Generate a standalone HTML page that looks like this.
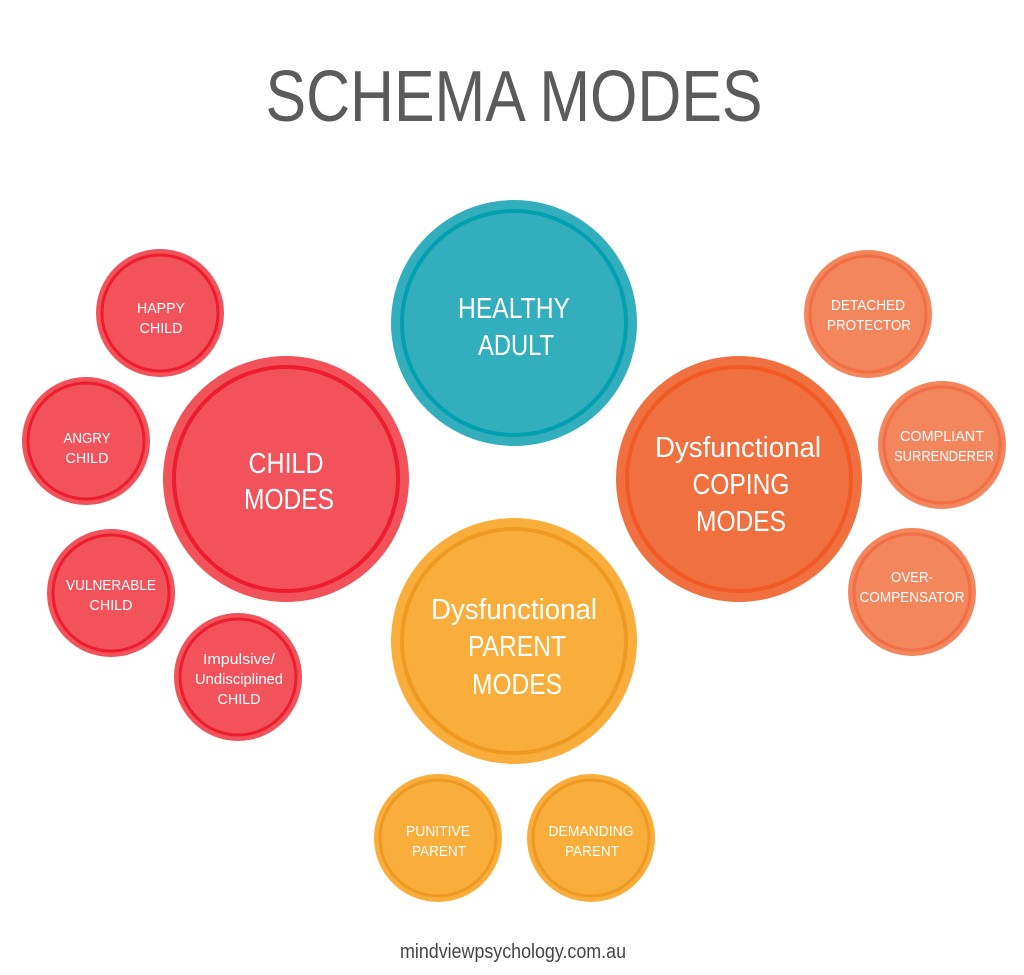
<!DOCTYPE html>
<html><head><meta charset="utf-8"><style>
html,body{margin:0;padding:0;background:#fff;width:1024px;height:975px;overflow:hidden}
svg text{font-family:"Liberation Sans",sans-serif;text-anchor:middle}
.w{fill:#fff}
</style></head><body>
<svg width="1024" height="975" viewBox="0 0 1024 975" xmlns="http://www.w3.org/2000/svg">
<text x="514" y="121" font-size="72" fill="#5b5b5b" textLength="497" lengthAdjust="spacingAndGlyphs">SCHEMA MODES</text>

<!-- big circles -->
<circle cx="514" cy="323" r="123" fill="#33aebd"/><circle cx="514" cy="323" r="112" fill="none" stroke="#00a0b1" stroke-width="4"/>
<circle cx="286" cy="479" r="123" fill="#f2535b"/><circle cx="286" cy="479" r="112" fill="none" stroke="#ed1c2e" stroke-width="4"/>
<circle cx="739" cy="479" r="123" fill="#f07040"/><circle cx="739" cy="479" r="112" fill="none" stroke="#f15a24" stroke-width="4"/>
<circle cx="514" cy="641" r="123" fill="#f9ae3b"/><circle cx="514" cy="641" r="112" fill="none" stroke="#ee9a22" stroke-width="4"/>

<!-- small red -->
<g fill="#f2535b"><circle cx="160" cy="313" r="64"/><circle cx="86" cy="441" r="64"/><circle cx="111" cy="593" r="64"/><circle cx="238" cy="677" r="64"/></g>
<g fill="none" stroke="#ed1c2e" stroke-width="3"><circle cx="160" cy="313" r="58"/><circle cx="86" cy="441" r="58"/><circle cx="111" cy="593" r="58"/><circle cx="238" cy="677" r="58"/></g>
<!-- small orange -->
<g fill="#f4865e"><circle cx="868" cy="314" r="64"/><circle cx="942" cy="445" r="64"/><circle cx="912" cy="592" r="64"/></g>
<g fill="none" stroke="#f26f45" stroke-width="3"><circle cx="868" cy="314" r="58"/><circle cx="942" cy="445" r="58"/><circle cx="912" cy="592" r="58"/></g>
<!-- small yellow -->
<g fill="#f9ae3b"><circle cx="438" cy="838" r="64"/><circle cx="591" cy="838" r="64"/></g>
<g fill="none" stroke="#ee9a22" stroke-width="3"><circle cx="438" cy="838" r="58"/><circle cx="591" cy="838" r="58"/></g>

<g class="w" font-size="29">
<text x="514" y="318" textLength="112" lengthAdjust="spacingAndGlyphs">HEALTHY</text>
<text x="516" y="355" textLength="76" lengthAdjust="spacingAndGlyphs">ADULT</text>
<text x="286" y="473" textLength="75" lengthAdjust="spacingAndGlyphs">CHILD</text>
<text x="289" y="509" textLength="90" lengthAdjust="spacingAndGlyphs">MODES</text>
<text x="738" y="457" textLength="166" lengthAdjust="spacingAndGlyphs">Dysfunctional</text>
<text x="741" y="494" textLength="97" lengthAdjust="spacingAndGlyphs">COPING</text>
<text x="741" y="531" textLength="90" lengthAdjust="spacingAndGlyphs">MODES</text>
<text x="514" y="619" textLength="166" lengthAdjust="spacingAndGlyphs">Dysfunctional</text>
<text x="517" y="656" textLength="98" lengthAdjust="spacingAndGlyphs">PARENT</text>
<text x="517" y="694" textLength="90" lengthAdjust="spacingAndGlyphs">MODES</text>
</g>
<g class="w" font-size="15">
<text x="161" y="313" textLength="48" lengthAdjust="spacingAndGlyphs">HAPPY</text>
<text x="161" y="333" textLength="43" lengthAdjust="spacingAndGlyphs">CHILD</text>
<text x="87" y="443" textLength="47" lengthAdjust="spacingAndGlyphs">ANGRY</text>
<text x="87" y="463" textLength="43" lengthAdjust="spacingAndGlyphs">CHILD</text>
<text x="111" y="590" textLength="90" lengthAdjust="spacingAndGlyphs">VULNERABLE</text>
<text x="111" y="610" textLength="43" lengthAdjust="spacingAndGlyphs">CHILD</text>
<text x="239" y="664" textLength="72" lengthAdjust="spacingAndGlyphs">Impulsive/</text>
<text x="239" y="684" textLength="88" lengthAdjust="spacingAndGlyphs">Undisciplined</text>
<text x="239" y="704" textLength="43" lengthAdjust="spacingAndGlyphs">CHILD</text>
<text x="868" y="310" textLength="74" lengthAdjust="spacingAndGlyphs">DETACHED</text>
<text x="869" y="330" textLength="84" lengthAdjust="spacingAndGlyphs">PROTECTOR</text>
<text x="942" y="441" textLength="84" lengthAdjust="spacingAndGlyphs">COMPLIANT</text>
<text x="944" y="461" textLength="100" lengthAdjust="spacingAndGlyphs">SURRENDERER</text>
<text x="912" y="582" textLength="42" lengthAdjust="spacingAndGlyphs">OVER-</text>
<text x="912" y="602" textLength="105" lengthAdjust="spacingAndGlyphs">COMPENSATOR</text>
<text x="438" y="836" textLength="64" lengthAdjust="spacingAndGlyphs">PUNITIVE</text>
<text x="439" y="856" textLength="54" lengthAdjust="spacingAndGlyphs">PARENT</text>
<text x="591" y="836" textLength="85" lengthAdjust="spacingAndGlyphs">DEMANDING</text>
<text x="592" y="856" textLength="54" lengthAdjust="spacingAndGlyphs">PARENT</text>
</g>
<text x="513" y="958" font-size="20" fill="#444" textLength="226" lengthAdjust="spacingAndGlyphs">mindviewpsychology.com.au</text>
</svg>
</body></html>
